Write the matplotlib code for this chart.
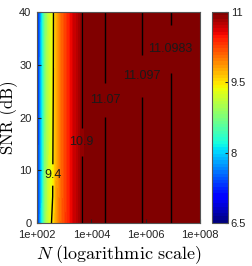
import numpy as np
import matplotlib
matplotlib.use('Agg')
import matplotlib.pyplot as plt
from matplotlib.colors import Normalize
from matplotlib.cm import ScalarMappable

plt.rcParams['font.family'] = 'Liberation Sans'
plt.rcParams['mathtext.fontset'] = 'cm'

#%% dados lidos da figura
# eixo x: log10(N)
logN = [2.0, 2.1, 2.2, 2.3, 2.4, 2.5, 2.6, 2.7, 2.85, 3.0, 3.2, 3.4, 3.64, 4.0, 4.5, 5.0, 5.85, 6.92, 8.0]
snr = [0, 5, 40]
# valores por linha de SNR
val_snr0 = [7.0, 7.65, 8.25, 8.85, 9.15, 9.35, 9.5, 9.8, 10.05, 10.22, 10.46, 10.7, 10.9, 11.0, 11.07, 11.09, 11.097, 11.0983, 11.0986]
val_snr5 = [6.95, 7.6, 8.2, 8.8, 9.1, 9.3, 9.43, 9.74, 10.02, 10.21, 10.45, 10.7, 10.9, 11.0, 11.07, 11.09, 11.097, 11.0983, 11.0986]
val_snr40 = [6.9, 7.55, 8.15, 8.75, 9.05, 9.25, 9.38, 9.7, 10.0, 10.2, 10.45, 10.7, 10.9, 11.0, 11.07, 11.09, 11.097, 11.0983, 11.0986]

niveis = [9.4, 10.9, 11.07, 11.097, 11.0983]
snr_rotulos = [9.1, 15.4, 23.3, 27.9, 33.0]

xticks = [2, 4, 6, 8]
xticklabels = ['1e+002', '1e+004', '1e+006', '1e+008']
yticks = [0, 10, 20, 30, 40]
cbticks = [6.5, 8, 9.5, 11]
cbticklabels = ['6.5', '8', '9.5', '11']

#%% figura
Z = np.array([val_snr0, val_snr5, val_snr40])
X, Y = np.meshgrid(logN, snr)

cmap = plt.get_cmap('jet', 64)
vmin, vmax = 6.5, 11

fig = plt.figure(figsize=(2.52, 2.66), dpi=100)
ax = fig.add_axes([37/252, 43/266, 163/252, 211/266])

ax.contourf(X, Y, Z, levels=np.linspace(vmin, vmax, 65), cmap=cmap,
            norm=Normalize(vmin, vmax), extend='both')
cs = ax.contour(X, Y, Z, levels=niveis, colors='k', linewidths=1.0)

# posicao aproximada dos rotulos (N pelo nivel na linha de SNR 40)
pos = [(float(np.interp(lv, val_snr40, logN)), s) for lv, s in zip(niveis, snr_rotulos)]
txts = ax.clabel(cs, inline=True, fontsize=9, fmt='%g', manual=pos, inline_spacing=2)
for t in txts:
    t.set_rotation(0)
    t.set_color('#1a1a1a')
    t.set_fontsize(9)

ax.set_xlim(2, 8)
ax.set_ylim(0, 40)
ax.set_xticks(xticks)
ax.set_xticklabels(xticklabels)
ax.set_yticks(yticks)
ax.tick_params(direction='in', length=3, labelsize=8, colors='#222222')
ax.tick_params(axis='x', pad=5)
ax.tick_params(axis='y', pad=4)
for sp in ax.spines.values():
    sp.set_color('#555555')
    sp.set_linewidth(0.8)

ax.set_xlabel(r'$N\ \mathrm{(logarithmic\ scale)}$', fontsize=13)
ax.set_ylabel('SNR (dB)', fontsize=12, fontfamily='cmr10')
ax.xaxis.set_label_coords(0.5, -0.095)
ax.yaxis.set_label_coords(-0.118, 0.5)

# barra de cores
cax = fig.add_axes([212/252, 43/266, 16/252, 211/266])
sm = ScalarMappable(norm=Normalize(vmin, vmax), cmap=cmap)
cb = fig.colorbar(sm, cax=cax)
cb.set_ticks(cbticks)
cb.set_ticklabels(cbticklabels)
cb.ax.tick_params(direction='in', length=2, labelsize=8, colors='#222222', pad=2)
cb.outline.set_edgecolor('#555555')
cb.outline.set_linewidth(0.8)

fig.savefig('out.png', dpi=100)
